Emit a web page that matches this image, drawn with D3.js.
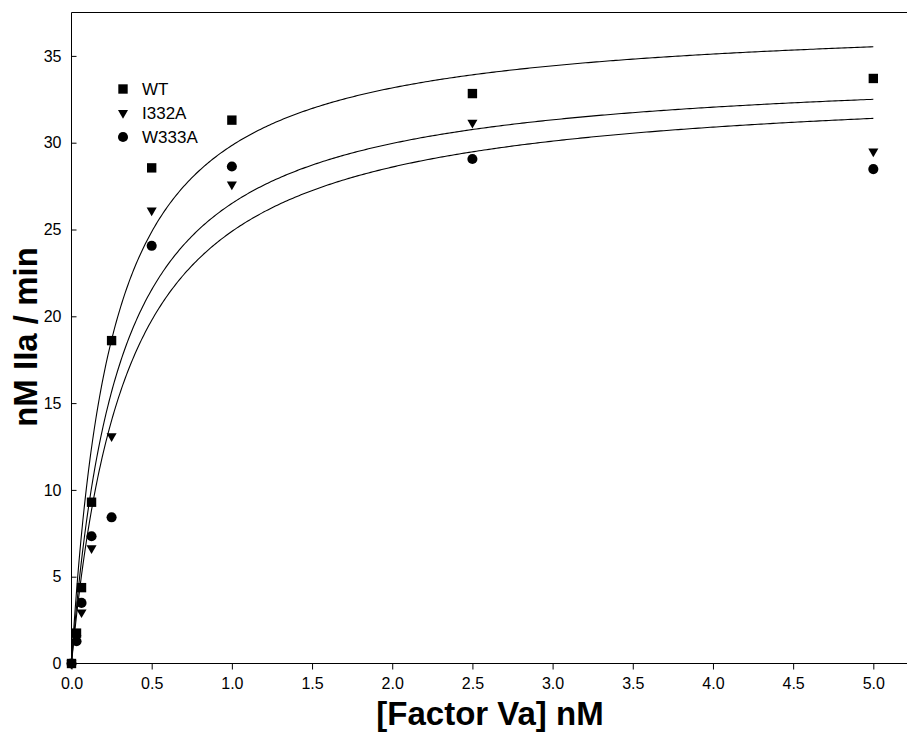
<!DOCTYPE html>
<html><head><meta charset="utf-8">
<script src="https://cdn.jsdelivr.net/npm/d3@7"></script>
<style>body{margin:0;background:#fff}svg{display:block}text{font-family:"Liberation Sans",Arial,sans-serif}</style>
</head><body><svg id="c" width="907" height="738"></svg>
<script>
const concentrations = [0, 0.03125, 0.0625, 0.125, 0.25, 0.5, 1, 2.5, 5];
const seriesNames = ["WT", "I332A", "W333A"];
const wtValues    = [0, 1.75, 4.37, 9.29, 18.6, 28.55, 31.3, 32.83, 33.7];
const i332aValues = [0, 1.45, 2.95, 6.64, 13.1, 26.1, 27.6, 31.16, 29.5];
const w333aValues = [0, 1.28, 3.49, 7.33, 8.42, 24.06, 28.63, 29.06, 28.48];
// fitted hyperbola parameters (Vmax, Km)
const fitVmax = [37.3, 34.45, 33.6];
const fitKm   = [0.25, 0.30, 0.35];
const xTicks = [0,0.5,1,1.5,2,2.5,3,3.5,4,4.5,5];
const yTicks = [0,5,10,15,20,25,30,35];

const svg = d3.select("#c");
const x = d3.scaleLinear().domain([0, 5.21]).range([71.5, 907]);
const y = d3.scaleLinear().domain([0, 37.5]).range([663.5, 12.5]);

// frame
svg.append("line").attr("x1",x(0)).attr("x2",907).attr("y1",y(37.5)).attr("y2",y(37.5)).attr("stroke","#000").attr("stroke-width",1);

const xAxis = svg.append("g").attr("transform",`translate(0,${y(0)})`)
  .call(d3.axisBottom(x).tickValues(xTicks).tickFormat(d3.format(".1f")).tickSize(6).tickSizeOuter(0));
xAxis.selectAll("text").attr("font-size",16).attr("dy","1.05em").attr("fill","#000").style("font-family","'Liberation Sans',Arial,sans-serif");
const yAxis = svg.append("g").attr("transform",`translate(${x(0)},0)`)
  .call(d3.axisLeft(y).tickValues(yTicks).tickFormat(d3.format("d")).tickSize(-5).tickSizeOuter(0).tickPadding(10));
yAxis.selectAll("text").attr("font-size",16).attr("fill","#000").style("font-family","'Liberation Sans',Arial,sans-serif");
svg.selectAll(".domain").attr("stroke","#000");
svg.selectAll(".tick line").attr("stroke","#000");
xAxis.select(".domain").attr("d",`M${x(0)},0H907`);
yAxis.select(".domain").attr("d",`M0,${y(0)}V${y(37.5)}`);

// curves
const sample = d3.range(0, 401).map(i => 5 * Math.pow(i/400, 1.6));
const line = d3.line().x(d=>x(d[0])).y(d=>y(d[1]));
fitVmax.forEach((vm,i)=>{
  const km = fitKm[i];
  svg.append("path").attr("d", line(sample.map(c=>[c, vm*c/(km+c)])))
    .attr("fill","none").attr("stroke","#000").attr("stroke-width",1.1);
});

// points
const sqr = d3.symbol().type(d3.symbolSquare).size(88);
const tri = d3.symbol().type(d3.symbolTriangle).size(44);
const cir = d3.symbol().type(d3.symbolCircle).size(80);
const symbols = [sqr, tri, cir];
const rot = [0, 180, 0];
const allValues = [wtValues, i332aValues, w333aValues];
[2,1,0].forEach(s=>{
  svg.append("g").selectAll("path").data(concentrations).join("path")
    .attr("d", symbols[s]())
    .attr("transform",(d,i)=>`translate(${x(d)},${y(allValues[s][i])}) rotate(${rot[s]})`)
    .attr("fill","#000");
});

// legend
const lg = svg.append("g");
seriesNames.forEach((n,i)=>{
  const cy = 89 + i*24;
  lg.append("path").attr("d", symbols[i]()).attr("transform",`translate(123,${cy}) rotate(${rot[i]})`).attr("fill","#000");
  lg.append("text").attr("x",142).attr("y",cy+6).attr("font-size",17).text(n);
});

// titles
svg.append("text").attr("x",490).attr("y",725).attr("text-anchor","middle")
  .attr("font-size",33).attr("font-weight","bold").text("[Factor Va] nM");
svg.append("text").attr("transform","translate(37,337) rotate(-90)").attr("text-anchor","middle")
  .attr("font-size",33).attr("font-weight","bold").text("nM IIa / min");
</script></body></html>
